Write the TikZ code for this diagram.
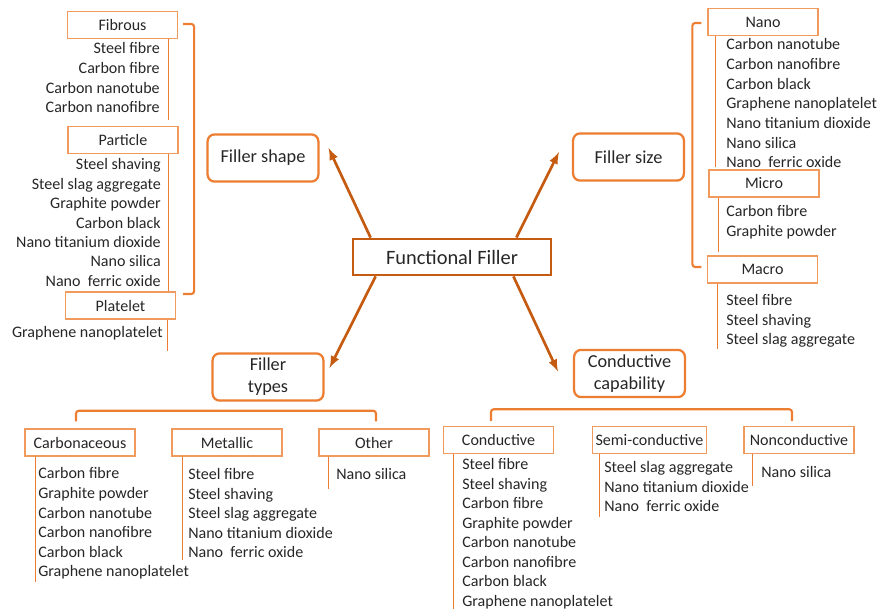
\documentclass[tikz,border=0pt]{standalone}
\usepackage{fontspec}
\setmainfont{Carlito}
\usetikzlibrary{calc}
\usetikzlibrary{arrows}
\usetikzlibrary{positioning}
\definecolor{FillOrange}{HTML}{ED7D31}
\definecolor{DarkOrange}{HTML}{C55A11}
\definecolor{LightOrange}{HTML}{F19A5E}
\definecolor{TextGrey}{HTML}{262626}
\tikzset{
  mainbox/.style={draw=DarkOrange,line width=2pt,minimum width=4.95cm,minimum height=0.9cm,
    text=TextGrey,font=\fontsize{14.5}{17}\selectfont},
  groupbox/.style={draw=FillOrange,line width=1.6pt,rounded corners=5pt,minimum width=2.77cm,
    minimum height=1.18cm,align=center,text=TextGrey,font=\fontsize{13}{15.6}\selectfont},
  catbox/.style={draw=LightOrange,line width=0.9pt,minimum width=2.75cm,minimum height=0.67cm,
    inner xsep=0.5pt,text=TextGrey,font=\fontsize{11.4}{13}\selectfont},
  item/.style={inner sep=0pt,text height=8.2pt,text depth=2.6pt,yshift=-1.4pt,text=TextGrey,
    font=\fontsize{11.4}{13}\selectfont},
  stem/.style={draw=FillOrange,line width=1pt},
  brace/.style={draw=FillOrange,line width=1.5pt,rounded corners=2pt},
  arr/.style={draw=DarkOrange,line width=1.9pt,-latex},
}

\begin{document}
\begin{tikzpicture}[x=0.025cm,y=-0.025cm]
  \useasboundingbox (0,0) rectangle (881,609);

  % centre and the four branches
  \node[mainbox] (ff) at (452,257) {Functional Filler};
  \node[groupbox] (shape) at (263,158) {Filler shape};
  \node[groupbox] (size) at (628.5,157) {Filler size};
  \node[groupbox] (types) at (268,377) {Filler\\types};
  \node[groupbox] (cap) at (629.5,373.5) {Conductive\\capability};

  \draw[arr] ($(ff.north west)+(19,0)$) -- ($(shape.east)+(9,-10)$);
  \draw[arr] ($(ff.north east)+(-36,0)$) -- ($(size.west)+(-13,-5)$);
  \draw[arr] ($(ff.south west)+(24,0)$) -- ($(types.east)+(5,-9)$);
  \draw[arr] ($(ff.south east)+(-39,0)$) -- ($(cap.west)+(-15,-2)$);

  % filler shape
  \node[catbox] (fib) at (122.5,25) {Fibrous};
  \node[catbox] (part) at (123,140) {Particle};
  \node[catbox] (plat) at (120.5,305.5) {Platelet};
  \draw[stem] ($(fib.south west)+(101.5,0)$) -- ++(0,81);
  \draw[stem] ($(part.south west)+(101,0)$) -- ++(0,137);
  \draw[stem] ($(plat.south west)+(102.5,0)$) -- ++(0,31);
  \draw[brace] ($(fib.east)+(5,-1)$) -- ++(11,0) -- ++(0,270) -- ++(-11,0);

  \foreach \txt [count=\i] in {Steel fibre,Carbon fibre,Carbon nanotube,Carbon nanofibre}
    \node[item,anchor=east] (fib-\i) at (160,{48+19.6*(\i-1)}) {\txt};
  \foreach \txt [count=\i] in {Steel shaving,Steel slag aggregate,Graphite powder,Carbon black,
      Nano titanium dioxide,Nano silica,Nano~ ferric oxide}
    \node[item,anchor=east] (part-\i) at (161,{164+19.4*(\i-1)}) {\txt};
  \node[item,anchor=east] (plat-1) at (163,332) {Graphene nanoplatelet};

  % filler size
  \node[catbox] (nano) at (763,22) {Nano};
  \node[catbox] (micro) at (764,183.5) {Micro};
  \node[catbox] (macro) at (762.5,269.5) {Macro};
  \draw[stem] ($(nano.south west)+(8,0)$) -- ++(0,131);
  \draw[stem] ($(micro.south west)+(10,0)$) -- ++(0,54);
  \draw[stem] ($(macro.south west)+(10.5,0)$) -- ++(0,65);
  \draw[brace] ($(nano.west)+(-6,1)$) -- ++(-9,0) -- ++(0,244) -- ++(9,0);

  \foreach \txt [count=\i] in {Carbon nanotube,Carbon nanofibre,Carbon black,Graphene nanoplatelet,
      Nano titanium dioxide,Nano silica,Nano~ ferric oxide}
    \node[item,anchor=west] (nano-\i) at (726,{44+19.65*(\i-1)}) {\txt};
  \foreach \txt [count=\i] in {Carbon fibre,Graphite powder}
    \node[item,anchor=west] (micro-\i) at (726,{211+20*(\i-1)}) {\txt};
  \foreach \txt [count=\i] in {Steel fibre,Steel shaving,Steel slag aggregate}
    \node[item,anchor=west] (macro-\i) at (726,{300+19.5*(\i-1)}) {\txt};

  % filler types
  \node[catbox] (carb) at (80,442.5) {Carbonaceous};
  \node[catbox] (metal) at (227,442.5) {Metallic};
  \node[catbox] (other) at (374,442.5) {Other};
  \draw[brace] ($(carb.north)+(-4,-7)$) |- ($(types.south)+(0,9)$) -| ($(other.north)+(2,-7)$);
  \draw[stem] ($(carb.south west)+(11,0)$) -- ++(0,125);
  \draw[stem] ($(metal.south west)+(11,0)$) -- ++(0,103);
  \draw[stem] ($(other.south west)+(10,0)$) -- ++(0,32);

  \foreach \txt [count=\i] in {Carbon fibre,Graphite powder,Carbon nanotube,Carbon nanofibre,
      Carbon black,Graphene nanoplatelet}
    \node[item,anchor=west] (carb-\i) at (38,{473+19.6*(\i-1)}) {\txt};
  \foreach \txt [count=\i] in {Steel fibre,Steel shaving,Steel slag aggregate,
      Nano titanium dioxide,Nano~ ferric oxide}
    \node[item,anchor=west] (metal-\i) at (188,{474+19.5*(\i-1)}) {\txt};
  \node[item,anchor=west] (other-1) at (336,474) {Nano silica};

  % conductive capability
  \node[catbox] (cond) at (498.5,440) {Conductive};
  \node[catbox,minimum width=2.85cm] (semi) at (649.5,440) {Semi-conductive};
  \node[catbox] (noncond) at (799,440) {Nonconductive};
  \draw[brace] ($(cond.north)+(-7.5,-5)$) |- ($(cap.south)+(0,11)$) -| ($(noncond.north)+(-7,-5)$);
  \draw[stem] ($(cond.south west)+(10.5,0)$) -- ++(0,156);
  \draw[stem] ($(semi.south west)+(7.5,0)$) -- ++(0,63);
  \draw[stem] ($(noncond.south west)+(9,0)$) -- ++(0,32);

  \foreach \txt [count=\i] in {Steel fibre,Steel shaving,Carbon fibre,Graphite powder,
      Carbon nanotube,Carbon nanofibre,Carbon black,Graphene nanoplatelet}
    \node[item,anchor=west] (cond-\i) at (462,{464+19.45*(\i-1)}) {\txt};
  \foreach \txt [count=\i] in {Steel slag aggregate,Nano titanium dioxide,Nano~ ferric oxide}
    \node[item,anchor=west] (semi-\i) at (604,{467+19.5*(\i-1)}) {\txt};
  \node[item,anchor=west] (noncond-1) at (761,472) {Nano silica};

\end{tikzpicture}
\end{document}
